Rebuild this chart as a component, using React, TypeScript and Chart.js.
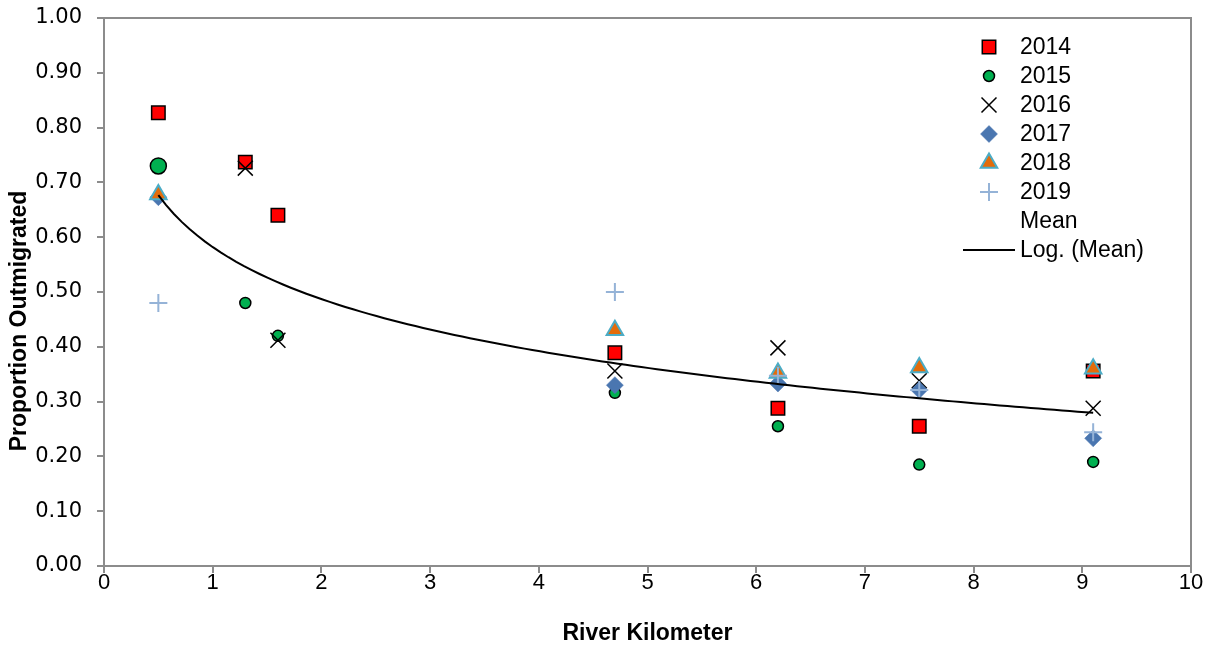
import React, { useEffect, useRef } from "react";
import { Chart, registerables } from "chart.js";
import { drawPoint } from "chart.js/helpers";

Chart.register(...registerables);

const riverKm = [0.5, 1.3, 1.6, 4.7, 6.2, 7.5, 9.1];
const y2014 = [0.827, 0.737, 0.64, 0.389, 0.288, 0.255, 0.356];
const y2015 = [0.73, 0.48, 0.42, 0.316, 0.255, 0.185, 0.19];
const y2016 = [null, 0.726, 0.412, 0.356, 0.398, 0.338, 0.288];
const y2017 = [0.673, null, null, 0.33, 0.333, 0.321, 0.233];
const y2018 = [0.678, null, null, 0.43, 0.352, 0.362, 0.36];
const y2019 = [0.48, null, null, 0.5, 0.347, 0.321, 0.244];
const r2015 = [8, 5.5, 5.5, 5.5, 5.5, 5.5, 5.5];
// Log. (Mean) trendline: y = a + b ln(x)
const trendA = 0.582;
const trendB = -0.137;
const trendFrom = 0.5;
const trendTo = 9.1;
const xTicks = [0, 1, 2, 3, 4, 5, 6, 7, 8, 9, 10];
const yTicks = [0, 0.1, 0.2, 0.3, 0.4, 0.5, 0.6, 0.7, 0.8, 0.9, 1.0];

const GRAY = "#8c8c8c";

function pts(ys: (number | null)[]) {
  return riverKm.map((x, i) => ({ x, y: ys[i] })).filter((p) => p.y !== null);
}

function trendPoints() {
  const out: { x: number; y: number }[] = [];
  const n = 120;
  for (let i = 0; i <= n; i++) {
    const x = trendFrom + ((trendTo - trendFrom) * i) / n;
    out.push({ x, y: trendA + trendB * Math.log(x) });
  }
  return out;
}

const legendItems = [
  { label: "2014", style: "rect", radius: 9.5, fill: "#ff0000", stroke: "#000000", lw: 1.5 },
  { label: "2015", style: "circle", radius: 5.5, fill: "#00b050", stroke: "#000000", lw: 1.5 },
  { label: "2016", style: "crossRot", radius: 10.6, fill: "#000000", stroke: "#000000", lw: 1.5 },
  { label: "2017", style: "rectRot", radius: 8.5, fill: "#4a76b0", stroke: "#4a76b0", lw: 0.5 },
  { label: "2018", style: "triangle", radius: 9.5, fill: "#e46c0a", stroke: "#4bacc6", lw: 2 },
  { label: "2019", style: "cross", radius: 9, fill: "#95b3d7", stroke: "#95b3d7", lw: 2 },
  { label: "Mean", style: "none", radius: 0, fill: "", stroke: "", lw: 0 },
  { label: "Log. (Mean)", style: "line", radius: 0, fill: "#000", stroke: "#000", lw: 2 },
];

const decorPlugin = {
  id: "decor",
  beforeDatasetsDraw(chart: any) {
    const { ctx, chartArea: a } = chart;
    ctx.save();
    ctx.strokeStyle = GRAY;
    ctx.lineWidth = 2;
    ctx.strokeRect(a.left, a.top, a.right - a.left, a.bottom - a.top);
    ctx.restore();
  },
  afterDraw(chart: any) {
    const { ctx, chartArea: a } = chart;
    ctx.save();
    ctx.fillStyle = "#000";
    ctx.font = "bold 23px 'Liberation Sans Narrow', 'Liberation Sans', sans-serif";
    ctx.textAlign = "center";
    ctx.textBaseline = "middle";
    ctx.fillText("River Kilometer", (a.left + a.right) / 2, 634);
    ctx.save();
    ctx.translate(20, 321);
    ctx.rotate(-Math.PI / 2);
    ctx.fillText("Proportion Outmigrated", 0, 0);
    ctx.restore();
    const mx = 989;
    const tx = 1020;
    let y = 47;
    ctx.textAlign = "left";
    ctx.font = "23px 'Liberation Sans', sans-serif";
    for (const it of legendItems) {
      if (it.style === "line") {
        ctx.strokeStyle = "#000";
        ctx.lineWidth = 2;
        ctx.beginPath();
        ctx.moveTo(963, y);
        ctx.lineTo(1015, y);
        ctx.stroke();
      } else if (it.style !== "none") {
        ctx.fillStyle = it.fill;
        ctx.strokeStyle = it.stroke;
        ctx.lineWidth = it.lw;
        drawPoint(ctx, { pointStyle: it.style, radius: it.radius, rotation: 0, borderWidth: it.lw }, mx, y);
      }
      ctx.fillStyle = "#000";
      ctx.fillText(it.label, tx, y + 1);
      y += 29;
    }
    ctx.restore();
  },
};

export default function App() {
  const ref = useRef<HTMLCanvasElement>(null);
  useEffect(() => {
    if (!ref.current) return;
    const chart = new Chart(ref.current, {
      type: "scatter",
      data: {
        datasets: [
          {
            label: "2014",
            data: pts(y2014),
            pointStyle: "rect",
            pointRadius: 9.5,
            backgroundColor: "#ff0000",
            borderColor: "#000000",
            borderWidth: 1.5,
            order: 6,
          },
          {
            label: "2015",
            data: pts(y2015),
            pointStyle: "circle",
            pointRadius: r2015,
            backgroundColor: "#00b050",
            borderColor: "#000000",
            borderWidth: 1.5,
            order: 5,
          },
          {
            label: "2016",
            data: pts(y2016),
            pointStyle: "crossRot",
            pointRadius: 10.6,
            backgroundColor: "#000000",
            borderColor: "#000000",
            borderWidth: 1.5,
            order: 4,
          },
          {
            label: "2017",
            data: pts(y2017),
            pointStyle: "rectRot",
            pointRadius: 8.5,
            backgroundColor: "#4a76b0",
            borderColor: "#4a76b0",
            borderWidth: 0.5,
            order: 3,
          },
          {
            label: "2018",
            data: pts(y2018),
            pointStyle: "triangle",
            pointRadius: 9.5,
            backgroundColor: "#e46c0a",
            borderColor: "#4bacc6",
            borderWidth: 2,
            order: 2,
          },
          {
            label: "2019",
            data: pts(y2019),
            pointStyle: "cross",
            pointRadius: 9,
            backgroundColor: "#95b3d7",
            borderColor: "#95b3d7",
            borderWidth: 2,
            order: 1,
          },
          {
            label: "Log. (Mean)",
            type: "line",
            data: trendPoints(),
            showLine: true,
            pointRadius: 0,
            borderColor: "#000000",
            borderWidth: 2,
            fill: false,
            order: 0,
          } as any,
        ],
      },
      options: {
        responsive: false,
        animation: false,
        layout: { padding: { left: 0, right: 24, top: 18, bottom: 0 } },
        plugins: {
          legend: { display: false },
          tooltip: { enabled: false },
          title: { display: false },
        },
        scales: {
          x: {
            type: "linear",
            min: 0,
            max: 10,
            afterBuildTicks: (s: any) => {
              s.ticks = xTicks.map((v) => ({ value: v }));
            },
            afterFit: (s: any) => {
              s.height = 85;
            },
            border: { color: GRAY, width: 2 },
            grid: { display: true, drawOnChartArea: false, drawTicks: true, tickLength: 7, color: GRAY, lineWidth: 2 },
            ticks: {
              color: "#000",
              padding: -3,
              font: { family: "'Liberation Sans Narrow', 'Liberation Sans', sans-serif", size: 22 },
              callback: (v: any) => String(v),
            },
          },
          y: {
            type: "linear",
            min: 0,
            max: 1,
            afterBuildTicks: (s: any) => {
              s.ticks = yTicks.map((v) => ({ value: v }));
            },
            afterFit: (s: any) => {
              s.width = 104;
              s.paddingTop = 0;
              s.paddingBottom = 0;
            },
            border: { color: GRAY, width: 2 },
            grid: { display: true, drawOnChartArea: false, drawTicks: true, tickLength: 7, color: GRAY, lineWidth: 2 },
            ticks: {
              color: "#000",
              padding: 15,
              font: { family: "'DejaVu Sans', sans-serif", size: 21 },
              callback: (v: any) => Number(v).toFixed(2),
            },
          },
        },
      },
      plugins: [decorPlugin],
    });
    return () => chart.destroy();
  }, []);
  return (
    <div style={{ position: "fixed", left: 0, top: 0, width: 1215, height: 651, background: "#fff" }}>
      <canvas ref={ref} width={1215} height={651} style={{ display: "block", width: 1215, height: 651 }} />
    </div>
  );
}
